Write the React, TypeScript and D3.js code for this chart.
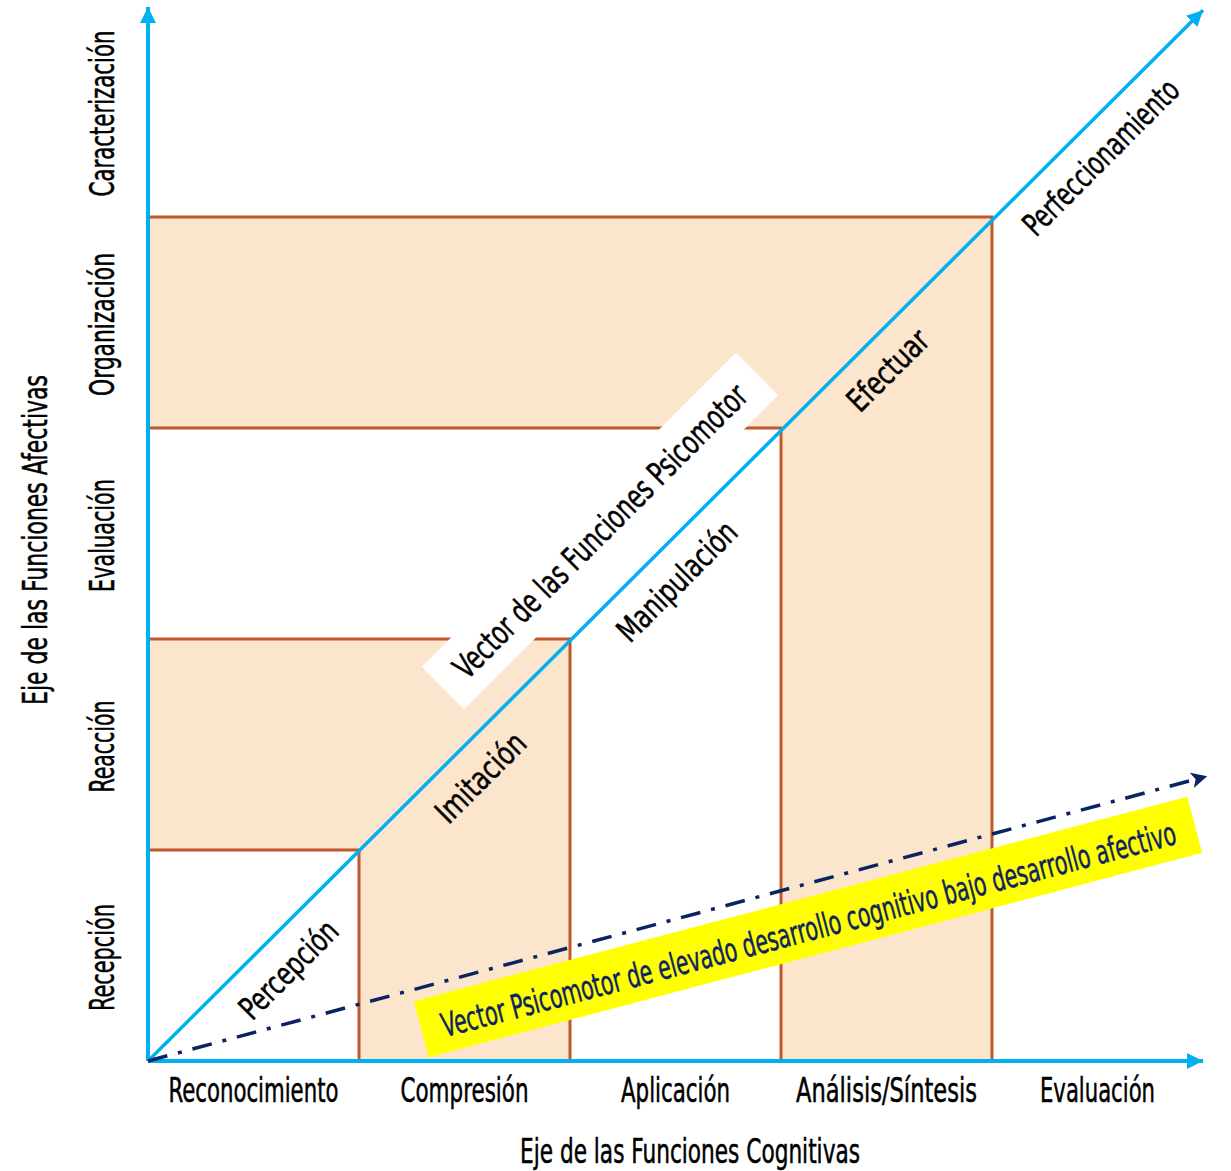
import React from "react";
import * as d3 from "d3";

// ---------- data ----------
const cognitiveLevels = ["Reconocimiento", "Compresión", "Aplicación", "Análisis/Síntesis", "Evaluación"];
const affectiveLevels = ["Recepción", "Reacción", "Evaluación", "Organización", "Caracterización"];
const psychomotorLevels = ["Percepción", "Imitación", "Manipulación", "Efectuar", "Perfeccionamiento"];
// shaded L-shaped bands: inner level -> outer level
const shadedBands = [
  { inner: 1, outer: 2 },
  { inner: 3, outer: 4 },
];
const psychomotorVectorEnd = [5, 4.98];
const lowAffectiveVectorEnd = [5.02, 1.35];
const xAxisTitle = "Eje de las Funciones Cognitivas";
const yAxisTitle = "Eje de las Funciones Afectivas";
const psychomotorTitle = "Vector  de las Funciones Psicomotor";
const lowAffectiveTitle = "Vector Psicomotor de elevado desarrollo cognitivo bajo desarrollo afectivo";

// ---------- layout (not data) ----------
const cogLen = [170, 128, 109, 181, 115];
const affLen = [107, 92, 113, 143, 166];
const psyLen = [125, 113, 155, 101, 206];
const psyAlong = [0.55, 1.46, 2.39, 3.39, 4.4];
const psyOffset = 0.115;

const W = 1231;
const H = 1171;
const FONT = "'Liberation Sans Narrow', 'DejaVu Sans Condensed', 'Roboto Condensed', sans-serif";
const BLUE = "#00b0f0";
const PEACH = "#fbe5cc";
const BROWN = "#c0582a";
const NAVY = "#0a2463";

export default function App() {
  const x = d3.scaleLinear().domain([0, 5]).range([148, 1203]);
  const y = d3.scaleLinear().domain([0, 5]).range([1061, 6]);
  const line = d3.line<number[]>().x((d) => x(d[0])).y((d) => y(d[1]));

  const bandPath = (b: { inner: number; outer: number }) =>
    line([
      [0, b.inner],
      [b.inner, b.inner],
      [b.inner, 0],
      [b.outer, 0],
      [b.outer, b.outer],
      [0, b.outer],
    ]) + "Z";

  const bandLines = (b: { inner: number; outer: number }) =>
    line([
      [0, b.inner],
      [b.inner, b.inner],
      [b.inner, 0],
    ])! +
    line([
      [0, b.outer],
      [b.outer, b.outer],
      [b.outer, 0],
    ])!;

  const textStroke = { stroke: "#000", strokeWidth: 0.5 };

  return (
    <svg
      width={W}
      height={H}
      style={{ position: "absolute", left: 0, top: 0, background: "#fff" }}
      fontFamily={FONT}
    >
      <defs>
        <marker id="blueArrow" markerUnits="userSpaceOnUse" markerWidth={20} markerHeight={20} refX={16} refY={8} orient="auto">
          <path d="M0,0 L16,8 L0,16 Z" fill={BLUE} />
        </marker>
        <marker id="navyArrow" markerUnits="userSpaceOnUse" markerWidth={20} markerHeight={20} refX={16} refY={8} orient="auto">
          <path d="M0,0 L16,8 L0,16 L4,8 Z" fill={NAVY} />
        </marker>
      </defs>

      {/* shaded bands */}
      {shadedBands.map((b, i) => (
        <g key={i}>
          <path d={bandPath(b)} fill={PEACH} stroke="none" />
          <path d={bandLines(b)} fill="none" stroke={BROWN} strokeWidth={3} />
        </g>
      ))}

      {/* white label box along diagonal */}
      <g transform="translate(600,531) rotate(-45)">
        <rect x={-222} y={-30} width={444} height={60} fill="#fff" />
        <text
          x={0}
          y={0}
          dy="0.36em"
          textAnchor="middle"
          fontSize={33}
          textLength={400}
          lengthAdjust="spacingAndGlyphs"
          fill="#000"
          {...textStroke}
        >
          {psychomotorTitle}
        </text>
      </g>

      {/* yellow label box */}
      <g transform={`translate(808,927) rotate(-14.8)`}>
        <rect x={-400} y={-29} width={800} height={58} fill="#ffff00" />
        <text
          x={0}
          y={2}
          dy="0.36em"
          textAnchor="middle"
          fontSize={33}
          textLength={758}
          lengthAdjust="spacingAndGlyphs"
          fill={NAVY}
          stroke={NAVY}
          strokeWidth={0.5}
        >
          {lowAffectiveTitle}
        </text>
      </g>

      {/* axes */}
      <line x1={x(0)} y1={y(0)} x2={x(5)} y2={y(0)} stroke={BLUE} strokeWidth={4} markerEnd="url(#blueArrow)" />
      <line x1={x(0)} y1={y(0)} x2={x(0)} y2={7} stroke={BLUE} strokeWidth={4} markerEnd="url(#blueArrow)" />

      {/* psychomotor diagonal vector */}
      <path d={line([[0, 0], psychomotorVectorEnd])!} stroke={BLUE} strokeWidth={3.5} fill="none" markerEnd="url(#blueArrow)" />

      {/* low affective vector (dash-dot) */}
      <path
        d={line([[0, 0], lowAffectiveVectorEnd])!}
        stroke={NAVY}
        strokeWidth={3.5}
        fill="none"
        strokeDasharray="20,11,4,11"
        markerEnd="url(#navyArrow)"
      />

      {/* x-axis labels */}
      {cognitiveLevels.map((c, i) => (
        <text
          key={c}
          x={x(i + 0.5)}
          y={1102}
          textAnchor="middle"
          fontSize={33}
          textLength={cogLen[i]}
          lengthAdjust="spacingAndGlyphs"
          fill="#000"
          {...textStroke}
        >
          {c}
        </text>
      ))}

      {/* y-axis labels */}
      {affectiveLevels.map((a, i) => (
        <text
          key={a + i}
          transform={`translate(114,${y(i + 0.5) + 2}) rotate(-90)`}
          textAnchor="middle"
          fontSize={33}
          textLength={affLen[i]}
          lengthAdjust="spacingAndGlyphs"
          fill="#000"
          {...textStroke}
        >
          {a}
        </text>
      ))}

      {/* psychomotor labels along diagonal */}
      {psychomotorLevels.map((p, i) => {
        const cx = x(psyAlong[i] + psyOffset);
        const cy = y(psyAlong[i] - psyOffset);
        return (
          <text
            key={p}
            transform={`translate(${cx},${cy}) rotate(-45)`}
            dy="0.36em"
            textAnchor="middle"
            fontSize={32}
            textLength={psyLen[i]}
            lengthAdjust="spacingAndGlyphs"
            fill="#000"
            {...textStroke}
          >
            {p}
          </text>
        );
      })}

      {/* axis titles */}
      <text
        x={690}
        y={1163}
        textAnchor="middle"
        fontSize={33}
        textLength={340}
        lengthAdjust="spacingAndGlyphs"
        fill="#000"
        {...textStroke}
      >
        {xAxisTitle}
      </text>
      <text
        transform={`translate(47,540) rotate(-90)`}
        textAnchor="middle"
        fontSize={33}
        textLength={330}
        lengthAdjust="spacingAndGlyphs"
        fill="#000"
        {...textStroke}
      >
        {yAxisTitle}
      </text>
    </svg>
  );
}
